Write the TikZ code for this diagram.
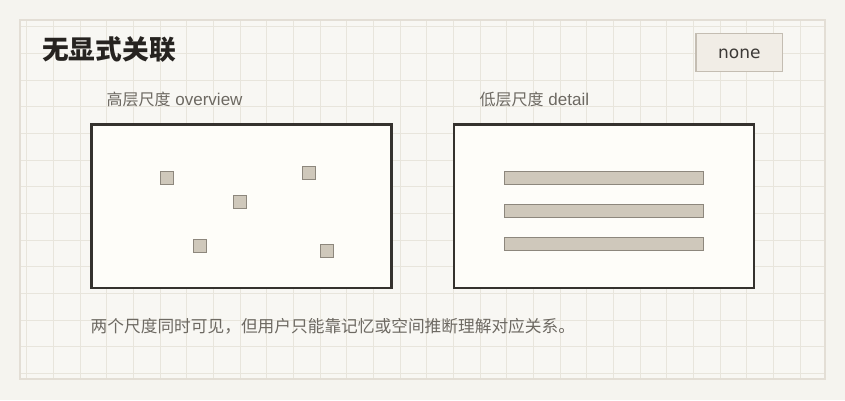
\documentclass[tikz,border=0pt]{standalone}
\usepackage{fontspec}
\setmainfont{Liberation Sans}
\newfontfamily\cjk{Noto Sans CJK SC}
\newfontfamily\dejavu{DejaVu Sans}
\definecolor{pagebg}{HTML}{F5F4EF}
\definecolor{framebg}{HTML}{F8F7F3}
\definecolor{framecol}{HTML}{E3DED5}
\definecolor{gridcol}{HTML}{E8E5DC}
\definecolor{panelfill}{HTML}{FEFDF9}
\definecolor{paneldraw}{HTML}{35322E}
\definecolor{itemfill}{HTML}{CFC8BB}
\definecolor{itemdraw}{HTML}{8D877D}
\definecolor{labelcol}{HTML}{6D6962}
\definecolor{titlecol}{HTML}{262320}
\definecolor{btnfill}{HTML}{F1EDE6}
\definecolor{btndraw}{HTML}{C4BDB2}
\tikzset{
  gridline/.style={draw=gridcol, line width=0.9pt},
  panel/.style={rectangle, draw=paneldraw, fill=panelfill, line width=2.9pt, minimum width=300pt, minimum height=163.3pt, inner sep=0pt},
  sqitem/.style={rectangle, draw=itemdraw, fill=itemfill, line width=1pt, minimum width=12.7pt, minimum height=12.7pt, inner sep=0pt},
  baritem/.style={rectangle, draw=itemdraw, fill=itemfill, line width=1pt, minimum width=198.7pt, minimum height=12.7pt, inner sep=0pt},
  lbl/.style={anchor=base west, inner sep=0pt, text=labelcol, font=\fontsize{17}{17}\selectfont},
  btn/.style={rectangle, draw=btndraw, fill=btnfill, line width=1.2pt, minimum width=86.7pt, minimum height=38pt, inner sep=0pt, text=titlecol!90, font=\dejavu\fontsize{17}{17}\selectfont, text height=12.4pt, text depth=0pt},
}
\begin{document}
\begin{tikzpicture}[x=1pt, y=-1pt]
\useasboundingbox (0,0) rectangle (845,400);
\fill[pagebg] (0,0) rectangle (845,400);
\fill[framebg] (20.3,20.3) rectangle (825,379.3);
\begin{scope}
  \clip (20.3,20.3) rectangle (825,379.3);
  \foreach \i in {1,...,30} \draw[gridline] ({\i*26.6667},20) -- ({\i*26.6667},380);
  \foreach \j in {1,...,14} \draw[gridline] (20,{\j*26.6667}) -- (825,{\j*26.6667});
\end{scope}
\draw[framecol, line width=2pt] (20.3,20.3) rectangle (825,379.3);

\node[anchor=base west, inner sep=0pt, text=titlecol, font=\cjk\bfseries\fontsize{26.7}{26.7}\selectfont] (title) at (42,59.3) {无显式关联};
\node[btn] (none) at (739.3,52.3) {none};

\node[lbl] (lov) at (106.5,105.3) {{\cjk\fontsize{16}{16}\selectfont 高层尺度} overview};
\node[lbl] (ldt) at (479.5,105.3) {{\cjk\fontsize{16}{16}\selectfont 低层尺度} detail};

\node[panel] (ov) at (241.3,206.35) {};
\node[panel] (dt) at (604,206.35) {};

\node[sqitem] (s1) at (166.8,177.7) {};
\node[sqitem] (s2) at (309,173) {};
\node[sqitem] (s3) at (240,202.3) {};
\node[sqitem] (s4) at (200,246.3) {};
\node[sqitem] (s5) at (326.8,251) {};

\node[baritem] (b1) at (603.65,177.7) {};
\node[baritem] (b2) at (603.65,211) {};
\node[baritem] (b3) at (603.65,244.3) {};

\node[anchor=base west, inner sep=0pt, text=labelcol, font=\cjk\fontsize{16.7}{16.7}\selectfont] (note) at (90.5,332) {两个尺度同时可见，但用户只能靠记忆或空间推断理解对应关系。};
\end{tikzpicture}
\end{document}
